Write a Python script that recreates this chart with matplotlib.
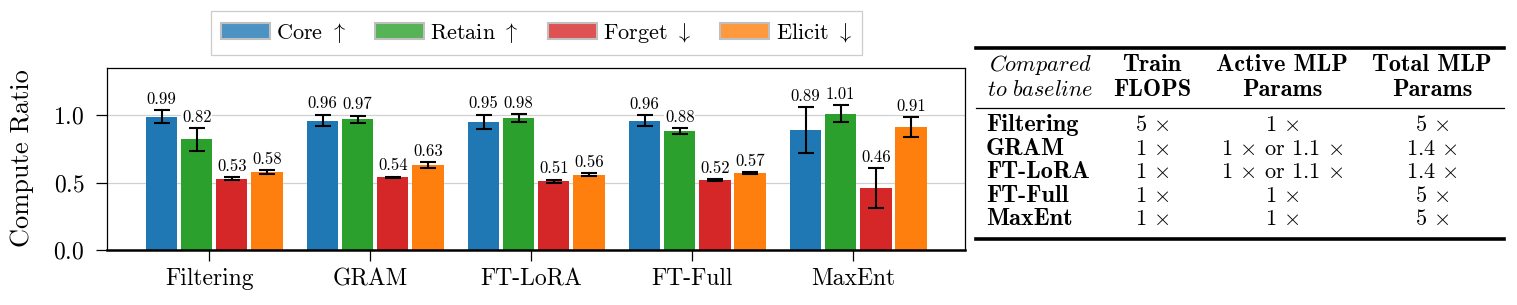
import matplotlib
matplotlib.use('Agg')
import matplotlib.pyplot as plt
from matplotlib.patches import Patch
from matplotlib.lines import Line2D
from matplotlib.colors import to_rgb
import numpy as np

# ---------------- data ----------------
methods = ['Filtering', 'GRAM', 'FT-LoRA', 'FT-Full', 'MaxEnt']
legend_labels = [r'Core $\uparrow$', r'Retain $\uparrow$', r'Forget $\downarrow$', r'Elicit $\downarrow$']
core = [0.99, 0.96, 0.95, 0.96, 0.89]
core_err = [0.045, 0.043, 0.052, 0.038, 0.168]
retain = [0.82, 0.97, 0.98, 0.88, 1.01]
retain_err = [0.085, 0.025, 0.027, 0.022, 0.064]
forget = [0.53, 0.54, 0.51, 0.52, 0.46]
forget_err = [0.011, 0.005, 0.010, 0.005, 0.145]
elicit = [0.58, 0.63, 0.56, 0.57, 0.91]
elicit_err = [0.013, 0.020, 0.011, 0.005, 0.074]
yticks = [0.0, 0.5, 1.0]

# table
table_header_col0 = ['Compared', 'to baseline']
table_headers = [['Train', 'FLOPS'], ['Active MLP', 'Params'], ['Total MLP', 'Params']]
table_rows = ['Filtering', 'GRAM', 'FT-LoRA', 'FT-Full', 'MaxEnt']
train_flops = [r'5 $\times$', r'1 $\times$', r'1 $\times$', r'1 $\times$', r'1 $\times$']
active_params = [r'1 $\times$', r'1 $\times$ or 1.1 $\times$', r'1 $\times$ or 1.1 $\times$',
                 r'1 $\times$', r'1 $\times$']
total_params = [r'5 $\times$', r'1.4 $\times$', r'1.4 $\times$', r'5 $\times$', r'5 $\times$']

colors = ['#1f77b4', '#2ca02c', '#d62728', '#ff7f0e']

# ---------------- style ----------------
plt.rcParams['font.family'] = 'cmr10'
plt.rcParams['mathtext.fontset'] = 'cm'
plt.rcParams['axes.unicode_minus'] = False
plt.rcParams['axes.formatter.use_mathtext'] = True

W, H = 1517, 305
fig = plt.figure(figsize=(W / 100, H / 100), dpi=100)

def fx(x):
    return x / W

def fy(y):
    return 1 - y / H

ax = fig.add_axes([fx(106.7), fy(250), fx(965) - fx(106.7), fy(68) - fy(250)])

x = np.arange(len(methods))
width = 0.195
offsets = [-0.296, -0.078, 0.140, 0.358]
vals = [core, retain, forget, elicit]
errs = [core_err, retain_err, forget_err, elicit_err]

for i in range(4):
    xs = x + offsets[i]
    ax.bar(xs, vals[i], width=width, color=colors[i], zorder=2)
    ax.errorbar(xs, vals[i], yerr=errs[i], fmt='none', ecolor='black',
                elinewidth=1.5, capsize=6, capthick=1.5, zorder=3)
    for xi, v, e in zip(xs, vals[i], errs[i]):
        ax.annotate(f'{v:.2f}', (xi, v + e), xytext=(0, 2.5), textcoords='offset points',
                    ha='center', va='bottom', fontsize=12, zorder=4,
                    bbox=dict(facecolor='white', edgecolor='none', pad=0.5))

ax.set_xlim(-0.637, 4.694)
ax.set_ylim(0, 1.35)
ax.set_yticks(yticks)
ax.set_xticks(x)
ax.set_xticklabels(methods)
ax.tick_params(axis='both', labelsize=17, length=8, width=0.9, direction='out')
ax.tick_params(axis='x', pad=5)
ax.tick_params(axis='y', pad=8)
ax.yaxis.grid(True, color='#d0d0d0', linewidth=0.9, zorder=0)
ax.set_axisbelow(True)
for s in ['left', 'top', 'right']:
    ax.spines[s].set_linewidth(0.9)
ax.spines['bottom'].set_linewidth(1.8)

fig.text(fx(22.5), fy(158), 'Compute Ratio', rotation=90, ha='center', va='center', fontsize=19)

def lighten(c, a=0.8):
    r, g, b = to_rgb(c)
    return (a * r + 1 - a, a * g + 1 - a, a * b + 1 - a)

handles = [Patch(facecolor=lighten(c), edgecolor='#c0c0c0', linewidth=1.5) for c in colors]
leg = fig.legend(handles, legend_labels, loc='center', bbox_to_anchor=(fx(536.3), fy(32.8)),
                 ncol=4, fontsize=16, frameon=True, fancybox=False, framealpha=1,
                 edgecolor='#cccccc', handlelength=2.2, handleheight=0.72,
                 handletextpad=0.3, columnspacing=1.3, borderpad=0.45)
leg.get_frame().set_linewidth(0.9)

# ---------------- table ----------------
tx0, tx1 = 976, 1503.7
fig.add_artist(Line2D([fx(tx0), fx(tx1)], [fy(47.7), fy(47.7)], color='black', linewidth=2.6))
fig.add_artist(Line2D([fx(tx0), fx(tx1)], [fy(107.7), fy(107.7)], color='black', linewidth=0.9))
fig.add_artist(Line2D([fx(tx0), fx(tx1)], [fy(239), fy(239)], color='black', linewidth=2.6))

col_centers = [1152, 1282, 1432]
head_base = [71, 95.5]
fs_t = 16
fs_b = 17.5
fig.text(fx(1040), fy(head_base[0]), r'$\mathit{Compared}$', ha='center', va='baseline', fontsize=fs_t)
fig.text(fx(1040), fy(head_base[1]), r'$\mathit{to\ baseline}$', ha='center', va='baseline', fontsize=fs_t)
for cx, hd in zip(col_centers, table_headers):
    for line, yb in zip(hd, head_base):
        fig.text(fx(cx), fy(yb), line, ha='center', va='baseline', fontsize=fs_b, family='cmb10')

row_base = [131, 155, 178.3, 201.7, 225]
for r, yb in enumerate(row_base):
    fig.text(fx(986), fy(yb), table_rows[r], ha='left', va='baseline', fontsize=fs_b, family='cmb10')
    for cx, col in zip(col_centers, [train_flops, active_params, total_params]):
        fig.text(fx(cx), fy(yb), col[r], ha='center', va='baseline', fontsize=fs_t)

fig.savefig('out.png', dpi=100)
